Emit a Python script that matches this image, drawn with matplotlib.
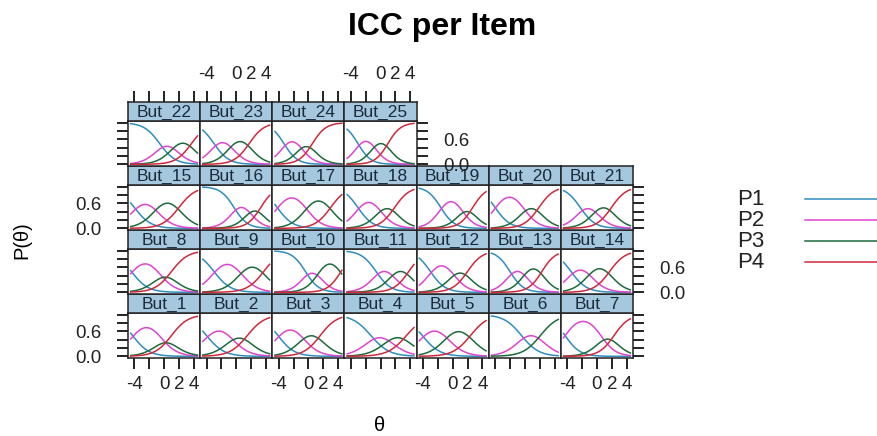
import numpy as np
import matplotlib.pyplot as plt

plt.rcParams['font.family'] = ['Liberation Sans', 'DejaVu Sans']

items = ['But_%d' % k for k in range(1, 26)]
categories = ['P1', 'P2', 'P3', 'P4']
colors = ['#2f8cc0', '#de44d0', '#1d6b3c', '#d0283c']

# graded response parameters
# (b = theta where P(X >= k) crosses 0.5, a = steepness); But_6 has 3 categories
slope = [0.9, 0.85, 0.9, 0.8, 0.85, 0.85, 1.0,
         0.9, 0.9, 1.1, 1.0, 1.0, 1.1, 0.95,
         0.9, 1.1, 0.95, 1.0, 1.1, 1.0, 1.0,
         0.95, 1.0, 1.1, 1.15]
b1 = [-4.25, -4.0, -4.1, -1.3, -4.1, -0.45, -4.3,
      -4.4, -3.0, -0.4, -0.6, -3.0, -2.0, -3.5,
      -4.0, -0.3, -4.2, -3.05, -1.6, -4.0, -2.25,
      -0.6, -3.0, -3.3, -3.05]
b2 = [-0.5, -0.7, -0.8, 1.1, -0.8, 2.1, 0.55,
      -0.7, 0.6, 1.4, 1.6, 0.0, 0.0, -1.0,
      -1.1, 1.7, -0.3, -0.15, 1.15, -0.15, -0.2,
      1.35, -0.7, -1.1, -0.9]
b3 = [1.0, 1.5, 1.6, 3.5, 2.4, np.nan, 2.3,
      1.0, 3.7, 4.4, 3.8, 2.0, 2.3, 1.7,
      2.0, 3.3, 3.0, 1.9, 2.7, 1.9, 1.95,
      3.7, 1.75, 0.55, 1.0]

theta = np.linspace(-4.5, 4.5, 121)


def trace(a, bs):
    bs = [b for b in bs if not np.isnan(b)]
    cum = [np.ones_like(theta)]
    cum += [1 / (1 + np.exp(-a * (theta - b))) for b in bs]
    cum.append(np.zeros_like(theta))
    return [cum[k] - cum[k + 1] for k in range(len(bs) + 1)]


W, H = 878.0, 436.0
x0, colw = 128.0, 72.15
y0, rowh, striph = 102.0, 64.0, 19.0
ink = '#222222'

fig = plt.figure(figsize=(W / 100, H / 100), dpi=100)

for i, name in enumerate(items):
    row, col = divmod(i, 7)
    top = y0 + (3 - row) * rowh
    left = x0 + col * colw
    ax = fig.add_axes([left / W, 1 - (top + rowh) / H, colw / W, (rowh - striph) / H])
    st = fig.add_axes([left / W, 1 - (top + striph) / H, colw / W, striph / H])

    probs = trace(slope[i], [b1[i], b2[i], b3[i]])
    for k, p in enumerate(probs):
        ax.plot(theta, p, color=colors[k], lw=1.1)

    for a in (ax, st):
        a.set_xlim(-4.86, 4.86)
        a.set_xticks([-4, -2, 0, 2, 4])
        a.set_xticklabels(['-4', '', '0', '2', '4'])
        for s in a.spines.values():
            s.set_linewidth(1.1)
            s.set_color(ink)
        a.tick_params(direction='out', length=8, width=1.4, color=ink,
                      labelsize=13.5, labelcolor=ink)
    ax.set_ylim(-0.04, 1.04)
    ax.set_yticks([0, 0.2, 0.4, 0.6, 0.8, 1.0])
    ax.set_yticklabels(['0.0', '', '', '0.6', '', ''])

    last = col == 6 or i == len(items) - 1
    ax.tick_params(axis='x', bottom=row == 0, top=False,
                   labelbottom=row == 0 and col % 2 == 0, labeltop=False, pad=5)
    ax.tick_params(axis='y', left=col == 0, right=last,
                   labelleft=col == 0 and row % 2 == 0,
                   labelright=last and row % 2 == 1, pad=11)

    st.set_facecolor('#a5c8df')
    st.set_ylim(0, 1)
    st.set_yticks([])
    st.tick_params(axis='x', bottom=False, labelbottom=False,
                   top=row == 3, labeltop=row == 3 and col % 2 == 1, pad=6)
    st.text(0.5, 0.45, name, transform=st.transAxes, ha='center', va='center',
            fontsize=12.5, color='#1b2b3b')

ov = fig.add_axes([0, 0, 1, 1], zorder=-1)
ov.set_xlim(0, W)
ov.set_ylim(H, 0)
ov.axis('off')
for k, lab in enumerate(categories):
    yy = 199 + 21 * k
    ov.text(737, yy, lab, ha='left', va='center', fontsize=16, color=ink)
    ov.plot([805, 878], [yy, yy], color=colors[k], lw=1.1)

fig.text(0.503, 1 - 27 / H, 'ICC per Item', ha='center', va='center',
         fontsize=23, fontweight='bold')
fig.text(22 / W, 1 - 240 / H, 'P(θ)', rotation=90, ha='center', va='center', fontsize=14.5)
fig.text(380 / W, 1 - 425 / H, 'θ', ha='center', va='center', fontsize=14.5)

fig.savefig('out.png', dpi=100)
